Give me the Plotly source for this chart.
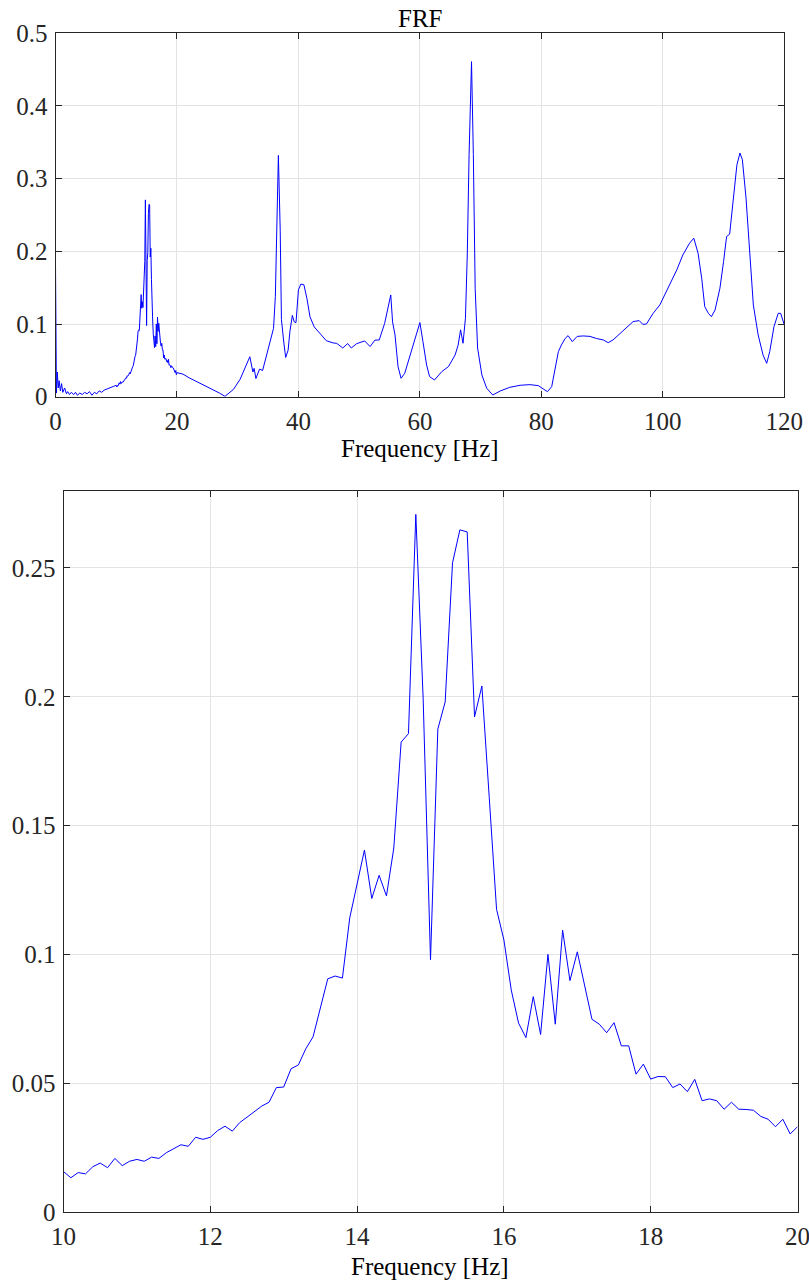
import plotly.graph_objects as go

# ---- FRF magnitude, 0-10 Hz (low-frequency segment) ----
low_freq = [0.0, 0.15, 0.3, 0.45, 0.6, 0.8, 1.0, 1.2, 1.5, 1.8, 2.0, 2.3, 2.6, 3.0, 3.3,
            3.6, 4.0, 4.4, 4.8, 5.2, 5.6, 6.0, 6.4, 6.8, 7.2, 7.6, 8.0, 8.5, 9.0, 9.5]
low_mag = [0.182, 0.005, 0.034, 0.012, 0.022, 0.008, 0.018, 0.006, 0.012, 0.004, 0.007,
           0.003, 0.006, 0.003, 0.006, 0.002, 0.005, 0.003, 0.006, 0.004, 0.007, 0.002,
           0.006, 0.004, 0.008, 0.006, 0.009, 0.011, 0.012, 0.014]

# ---- FRF magnitude, 10-20 Hz at 0.1 Hz resolution ----
zoom_freq = [round(10.0 + 0.1 * i, 1) for i in range(101)]
zoom_mag = [
    0.0157, 0.0133, 0.0153, 0.0148, 0.0176, 0.0190, 0.0172, 0.0208, 0.0180, 0.0197,
    0.0204, 0.0197, 0.0213, 0.0208, 0.0230, 0.0246, 0.0261, 0.0255, 0.0290, 0.0282,
    0.0290, 0.0316, 0.0333, 0.0314, 0.0347, 0.0368, 0.0391, 0.0411, 0.0426, 0.0483,
    0.0485, 0.0556, 0.0571, 0.0633, 0.0680, 0.0795, 0.0905, 0.0916, 0.0908, 0.1142,
    0.1274, 0.1405, 0.1217, 0.1307, 0.1227, 0.1413, 0.1824, 0.1857, 0.2708, 0.1992,
    0.0979, 0.1875, 0.1980, 0.2520, 0.2648, 0.2640, 0.1922, 0.2042, 0.1610, 0.1175,
    0.1056, 0.0862, 0.0733, 0.0677, 0.0836, 0.0689, 0.1000, 0.0729, 0.1094, 0.0898,
    0.1010, 0.0875, 0.0748, 0.0729, 0.0696, 0.0735, 0.0645, 0.0645, 0.0535, 0.0574,
    0.0516, 0.0526, 0.0525, 0.0483, 0.0497, 0.0467, 0.0515, 0.0432, 0.0439, 0.0432,
    0.0399, 0.0426, 0.0399, 0.0398, 0.0395, 0.0371, 0.0360, 0.0331, 0.0360, 0.0303,
    0.0331,
]

# ---- FRF magnitude, 20-120 Hz ----
high_freq = [21, 22, 23, 24, 25, 26, 27, 27.9, 29.3, 30.4, 31.2, 32.0, 32.5, 32.7, 33.0,
             33.6, 34.1, 34.8, 35.2, 35.9, 36.2, 36.4, 36.7, 37.0, 37.2, 37.6, 37.9, 38.3,
             38.6, 39.0, 39.3, 39.6, 40.0, 40.4, 40.9, 41.4, 41.9, 42.6, 43.5, 44.6, 45.7,
             46.3, 47.3, 48.1, 48.7, 49.6, 50.9, 51.8, 52.6, 53.3, 54.2, 54.8, 55.2, 55.5,
             55.9, 56.4, 56.9, 57.5, 58.4, 59.2, 60.0, 60.5, 61.1, 61.6, 62.4, 63.6, 64.7,
             65.8, 66.3, 66.7, 67.1, 67.5, 67.8, 68.1, 68.5, 68.8, 69.1, 69.5, 70.2, 71.0,
             72.0, 73.2, 74.8, 76.5, 78.1, 79.5, 80.3, 81.0, 81.7, 82.2, 82.8, 83.3, 83.9,
             84.4, 85.1, 85.9, 86.9, 88.0, 89.1, 90.2, 91.0, 91.8, 92.9, 94.0, 95.1, 96.1,
             96.7, 97.3, 98.4, 99.5, 100.3, 101.2, 102.3, 103.3, 104.4, 105.1, 105.8, 106.4,
             106.9, 107.5, 108.0, 108.6, 109.4, 110.0, 110.5, 111.0, 111.5, 112.2, 112.7,
             113.1, 113.7, 114.3, 114.9, 115.7, 116.5, 117.1, 117.6, 118.3, 119.0, 119.4,
             119.8, 120.0]
high_mag = [0.031, 0.026, 0.022, 0.017, 0.013, 0.009, 0.005, 0.0005, 0.010, 0.024, 0.039,
            0.055, 0.034, 0.039, 0.025, 0.038, 0.036, 0.059, 0.075, 0.094, 0.138, 0.225,
            0.332, 0.229, 0.106, 0.074, 0.054, 0.064, 0.090, 0.112, 0.103, 0.102, 0.147,
            0.155, 0.154, 0.135, 0.110, 0.096, 0.087, 0.077, 0.074, 0.0734, 0.067, 0.0731,
            0.067, 0.073, 0.0767, 0.069, 0.0779, 0.078, 0.101, 0.126, 0.140, 0.103, 0.085,
            0.0414, 0.0253, 0.0322, 0.0574, 0.080, 0.102, 0.0758, 0.0437, 0.0276, 0.023,
            0.0345, 0.0414, 0.0574, 0.0712, 0.092, 0.0735, 0.108, 0.195, 0.333, 0.461,
            0.333, 0.149, 0.067, 0.030, 0.0116, 0.0023, 0.0078, 0.0129, 0.0157, 0.0166,
            0.0152, 0.0101, 0.0069, 0.0138, 0.0345, 0.062, 0.0712, 0.080, 0.084, 0.0758,
            0.083, 0.0836, 0.083, 0.080, 0.0781, 0.0744, 0.0781, 0.0863, 0.0941, 0.1033,
            0.1047, 0.0996, 0.100, 0.1147, 0.1262, 0.140, 0.1538, 0.1745, 0.1951, 0.2112,
            0.2181, 0.1975, 0.163, 0.124, 0.1147, 0.1101, 0.1193, 0.1492, 0.1859, 0.2204,
            0.2236, 0.264, 0.3191, 0.3352, 0.326, 0.2732, 0.1951, 0.1262, 0.0849, 0.0574,
            0.0459, 0.062, 0.0964, 0.1147, 0.1147, 0.1033, 0.0987]

full_freq = low_freq + zoom_freq + high_freq
full_mag = low_mag + zoom_mag + high_mag

top_xticks = [0, 20, 40, 60, 80, 100, 120]
top_yticks = [0, 0.1, 0.2, 0.3, 0.4, 0.5]
bot_xticks = [10, 12, 14, 16, 18, 20]
bot_yticks = [0, 0.05, 0.1, 0.15, 0.2, 0.25]
bot_ytick_text = ["0", "0.05", "0.1", "0.15", "0.2", "0.25"]

W, H = 809, 1281
FONT = "Liberation Serif, Times New Roman, serif"
FONT_SIZE = 25
LINE_BLUE = "#0000ff"
AXIS_COL = "#262626"
GRID_COL = "#e3e3e3"


def px_x(p):
    return p / W


def px_y(p):
    return 1 - p / H


fig = go.Figure()
fig.add_trace(go.Scatter(x=full_freq, y=full_mag, mode="lines",
                         line=dict(color=LINE_BLUE, width=1), xaxis="x", yaxis="y",
                         showlegend=False))
fig.add_trace(go.Scatter(x=zoom_freq, y=zoom_mag, mode="lines",
                         line=dict(color=LINE_BLUE, width=1), xaxis="x2", yaxis="y2",
                         showlegend=False))

axis_common = dict(
    showline=True, linecolor=AXIS_COL, linewidth=1, mirror="ticks",
    ticks="inside", ticklen=6, tickcolor=AXIS_COL, tickwidth=1,
    showgrid=True, gridcolor=GRID_COL, gridwidth=1, zeroline=False,
    tickfont=dict(family=FONT, size=FONT_SIZE, color="#262626"), automargin=False,
    ticklabeloverflow="allow",
)

fig.update_layout(
    width=W, height=H,
    margin=dict(l=0, r=0, t=0, b=0),
    paper_bgcolor="white", plot_bgcolor="white",
    xaxis=dict(domain=[px_x(55.5), px_x(784.3)], range=[0, 120], tickvals=top_xticks,
               anchor="y", ticklabelstandoff=2, **axis_common),
    yaxis=dict(domain=[px_y(396.7), px_y(33.3)], range=[0, 0.5], tickvals=top_yticks,
               anchor="x", ticklabelstandoff=2, **axis_common),
    xaxis2=dict(domain=[px_x(63.5), px_x(797.5)], range=[10, 20], tickvals=bot_xticks,
                anchor="y2", ticklabelstandoff=2, **axis_common),
    yaxis2=dict(domain=[px_y(1212), px_y(490.7)], range=[0, 0.28], tickvals=bot_yticks,
                ticktext=bot_ytick_text, anchor="x2", ticklabelstandoff=2, **axis_common),
    annotations=[
        dict(text="FRF", x=px_x(420), y=px_y(18), xref="paper", yref="paper",
             showarrow=False, xanchor="center", yanchor="middle",
             font=dict(family=FONT, size=FONT_SIZE, color="black")),
        dict(text="Frequency [Hz]", x=px_x(420), y=px_y(449), xref="paper", yref="paper",
             showarrow=False, xanchor="center", yanchor="middle",
             font=dict(family=FONT, size=FONT_SIZE, color="black")),
        dict(text="Frequency [Hz]", x=px_x(430), y=px_y(1266), xref="paper", yref="paper",
             showarrow=False, xanchor="center", yanchor="middle",
             font=dict(family=FONT, size=FONT_SIZE, color="black")),
    ],
)

fig.write_html("out.html")
